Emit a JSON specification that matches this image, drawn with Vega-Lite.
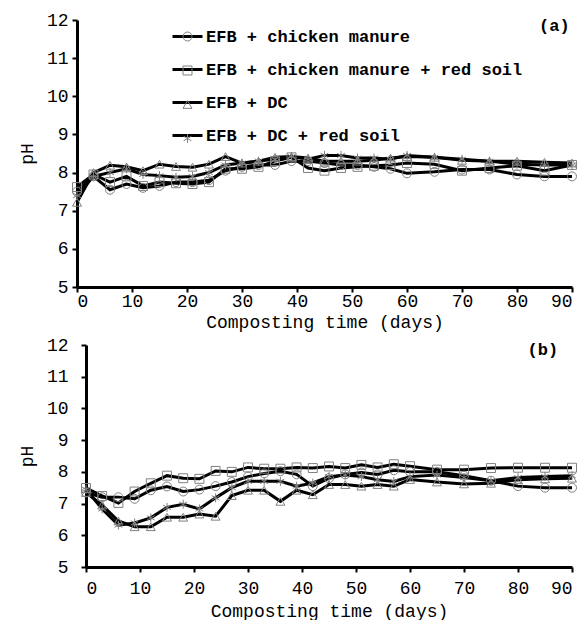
{
  "$schema": "https://vega.github.io/schema/vega-lite/v6.json",
  "padding": {"left": 18, "top": 11, "right": 0, "bottom": 0},
  "spacing": 5,
  "config": {
    "view": {"stroke": null},
    "font": "Liberation Mono",
    "axis": {
      "grid": false,
      "domainColor": "black",
      "domainWidth": 3,
      "tickColor": "black",
      "tickWidth": 2,
      "tickSize": 5,
      "labelFont": "Liberation Mono",
      "labelFontSize": 18,
      "labelColor": "black",
      "labelPadding": 4,
      "labelOverlap": false,
      "titleFont": "Liberation Mono",
      "titleFontSize": 18,
      "titleFontWeight": "normal",
      "titleColor": "black"
    }
  },
  "datasets": {
    "a": [
      {"series": "EFB + chicken manure", "day": 0, "pH": 7.5},
      {"series": "EFB + chicken manure", "day": 3, "pH": 7.9},
      {"series": "EFB + chicken manure", "day": 6, "pH": 7.55},
      {"series": "EFB + chicken manure", "day": 9, "pH": 7.7},
      {"series": "EFB + chicken manure", "day": 12, "pH": 7.6},
      {"series": "EFB + chicken manure", "day": 15, "pH": 7.65},
      {"series": "EFB + chicken manure", "day": 18, "pH": 7.75},
      {"series": "EFB + chicken manure", "day": 21, "pH": 7.75},
      {"series": "EFB + chicken manure", "day": 24, "pH": 7.8},
      {"series": "EFB + chicken manure", "day": 27, "pH": 8.05},
      {"series": "EFB + chicken manure", "day": 30, "pH": 8.15},
      {"series": "EFB + chicken manure", "day": 33, "pH": 8.2},
      {"series": "EFB + chicken manure", "day": 36, "pH": 8.2},
      {"series": "EFB + chicken manure", "day": 39, "pH": 8.3},
      {"series": "EFB + chicken manure", "day": 42, "pH": 8.3},
      {"series": "EFB + chicken manure", "day": 45, "pH": 8.25},
      {"series": "EFB + chicken manure", "day": 48, "pH": 8.2},
      {"series": "EFB + chicken manure", "day": 51, "pH": 8.2},
      {"series": "EFB + chicken manure", "day": 54, "pH": 8.15},
      {"series": "EFB + chicken manure", "day": 57, "pH": 8.1},
      {"series": "EFB + chicken manure", "day": 60, "pH": 7.98},
      {"series": "EFB + chicken manure", "day": 65, "pH": 8.02},
      {"series": "EFB + chicken manure", "day": 70, "pH": 8.08},
      {"series": "EFB + chicken manure", "day": 75, "pH": 8.08},
      {"series": "EFB + chicken manure", "day": 80, "pH": 7.95},
      {"series": "EFB + chicken manure", "day": 85, "pH": 7.9},
      {"series": "EFB + chicken manure", "day": 90, "pH": 7.9},
      {"series": "EFB + chicken manure + red soil", "day": 0, "pH": 7.62},
      {"series": "EFB + chicken manure + red soil", "day": 3, "pH": 7.95},
      {"series": "EFB + chicken manure + red soil", "day": 6, "pH": 7.75},
      {"series": "EFB + chicken manure + red soil", "day": 9, "pH": 7.9},
      {"series": "EFB + chicken manure + red soil", "day": 12, "pH": 7.65},
      {"series": "EFB + chicken manure + red soil", "day": 15, "pH": 7.75},
      {"series": "EFB + chicken manure + red soil", "day": 18, "pH": 7.72},
      {"series": "EFB + chicken manure + red soil", "day": 21, "pH": 7.7},
      {"series": "EFB + chicken manure + red soil", "day": 24, "pH": 7.75},
      {"series": "EFB + chicken manure + red soil", "day": 27, "pH": 8.1},
      {"series": "EFB + chicken manure + red soil", "day": 30, "pH": 8.1},
      {"series": "EFB + chicken manure + red soil", "day": 33, "pH": 8.15},
      {"series": "EFB + chicken manure + red soil", "day": 36, "pH": 8.3},
      {"series": "EFB + chicken manure + red soil", "day": 39, "pH": 8.4},
      {"series": "EFB + chicken manure + red soil", "day": 42, "pH": 8.12},
      {"series": "EFB + chicken manure + red soil", "day": 45, "pH": 8.05},
      {"series": "EFB + chicken manure + red soil", "day": 48, "pH": 8.12},
      {"series": "EFB + chicken manure + red soil", "day": 51, "pH": 8.15},
      {"series": "EFB + chicken manure + red soil", "day": 54, "pH": 8.18},
      {"series": "EFB + chicken manure + red soil", "day": 57, "pH": 8.2},
      {"series": "EFB + chicken manure + red soil", "day": 60, "pH": 8.25},
      {"series": "EFB + chicken manure + red soil", "day": 65, "pH": 8.22},
      {"series": "EFB + chicken manure + red soil", "day": 70, "pH": 8.05},
      {"series": "EFB + chicken manure + red soil", "day": 75, "pH": 8.12},
      {"series": "EFB + chicken manure + red soil", "day": 80, "pH": 8.18},
      {"series": "EFB + chicken manure + red soil", "day": 85, "pH": 8.05},
      {"series": "EFB + chicken manure + red soil", "day": 90, "pH": 8.2},
      {"series": "EFB + DC", "day": 0, "pH": 7.22},
      {"series": "EFB + DC", "day": 3, "pH": 8.0},
      {"series": "EFB + DC", "day": 6, "pH": 8.19},
      {"series": "EFB + DC", "day": 9, "pH": 8.15},
      {"series": "EFB + DC", "day": 12, "pH": 8.05},
      {"series": "EFB + DC", "day": 15, "pH": 8.22},
      {"series": "EFB + DC", "day": 18, "pH": 8.16},
      {"series": "EFB + DC", "day": 21, "pH": 8.14},
      {"series": "EFB + DC", "day": 24, "pH": 8.22},
      {"series": "EFB + DC", "day": 27, "pH": 8.42},
      {"series": "EFB + DC", "day": 30, "pH": 8.25},
      {"series": "EFB + DC", "day": 33, "pH": 8.3},
      {"series": "EFB + DC", "day": 36, "pH": 8.4},
      {"series": "EFB + DC", "day": 39, "pH": 8.42},
      {"series": "EFB + DC", "day": 42, "pH": 8.38},
      {"series": "EFB + DC", "day": 45, "pH": 8.3},
      {"series": "EFB + DC", "day": 48, "pH": 8.3},
      {"series": "EFB + DC", "day": 51, "pH": 8.3},
      {"series": "EFB + DC", "day": 54, "pH": 8.32},
      {"series": "EFB + DC", "day": 57, "pH": 8.38},
      {"series": "EFB + DC", "day": 60, "pH": 8.42},
      {"series": "EFB + DC", "day": 65, "pH": 8.4},
      {"series": "EFB + DC", "day": 70, "pH": 8.32},
      {"series": "EFB + DC", "day": 75, "pH": 8.3},
      {"series": "EFB + DC", "day": 80, "pH": 8.3},
      {"series": "EFB + DC", "day": 85, "pH": 8.27},
      {"series": "EFB + DC", "day": 90, "pH": 8.25},
      {"series": "EFB + DC + red soil", "day": 0, "pH": 7.4},
      {"series": "EFB + DC + red soil", "day": 3, "pH": 7.9},
      {"series": "EFB + DC + red soil", "day": 6, "pH": 8.0},
      {"series": "EFB + DC + red soil", "day": 9, "pH": 8.1},
      {"series": "EFB + DC + red soil", "day": 12, "pH": 7.95},
      {"series": "EFB + DC + red soil", "day": 15, "pH": 7.92},
      {"series": "EFB + DC + red soil", "day": 18, "pH": 7.88},
      {"series": "EFB + DC + red soil", "day": 21, "pH": 7.9},
      {"series": "EFB + DC + red soil", "day": 24, "pH": 8.0},
      {"series": "EFB + DC + red soil", "day": 27, "pH": 8.2},
      {"series": "EFB + DC + red soil", "day": 30, "pH": 8.25},
      {"series": "EFB + DC + red soil", "day": 33, "pH": 8.3},
      {"series": "EFB + DC + red soil", "day": 36, "pH": 8.35},
      {"series": "EFB + DC + red soil", "day": 39, "pH": 8.42},
      {"series": "EFB + DC + red soil", "day": 42, "pH": 8.35},
      {"series": "EFB + DC + red soil", "day": 45, "pH": 8.45},
      {"series": "EFB + DC + red soil", "day": 48, "pH": 8.45},
      {"series": "EFB + DC + red soil", "day": 51, "pH": 8.38},
      {"series": "EFB + DC + red soil", "day": 54, "pH": 8.38},
      {"series": "EFB + DC + red soil", "day": 57, "pH": 8.35},
      {"series": "EFB + DC + red soil", "day": 60, "pH": 8.45},
      {"series": "EFB + DC + red soil", "day": 65, "pH": 8.4},
      {"series": "EFB + DC + red soil", "day": 70, "pH": 8.35},
      {"series": "EFB + DC + red soil", "day": 75, "pH": 8.3},
      {"series": "EFB + DC + red soil", "day": 80, "pH": 8.22},
      {"series": "EFB + DC + red soil", "day": 85, "pH": 8.2},
      {"series": "EFB + DC + red soil", "day": 90, "pH": 8.2}
    ],
    "b": [
      {"series": "EFB + chicken manure", "day": 0, "pH": 7.35},
      {"series": "EFB + chicken manure", "day": 3, "pH": 7.2},
      {"series": "EFB + chicken manure", "day": 6, "pH": 7.2},
      {"series": "EFB + chicken manure", "day": 9, "pH": 7.15},
      {"series": "EFB + chicken manure", "day": 12, "pH": 7.42},
      {"series": "EFB + chicken manure", "day": 15, "pH": 7.54},
      {"series": "EFB + chicken manure", "day": 18, "pH": 7.38},
      {"series": "EFB + chicken manure", "day": 21, "pH": 7.44},
      {"series": "EFB + chicken manure", "day": 24, "pH": 7.55},
      {"series": "EFB + chicken manure", "day": 27, "pH": 7.68},
      {"series": "EFB + chicken manure", "day": 30, "pH": 7.85},
      {"series": "EFB + chicken manure", "day": 33, "pH": 7.95},
      {"series": "EFB + chicken manure", "day": 36, "pH": 8.02},
      {"series": "EFB + chicken manure", "day": 39, "pH": 7.92},
      {"series": "EFB + chicken manure", "day": 42, "pH": 7.55},
      {"series": "EFB + chicken manure", "day": 45, "pH": 7.8},
      {"series": "EFB + chicken manure", "day": 48, "pH": 7.92},
      {"series": "EFB + chicken manure", "day": 51, "pH": 7.98},
      {"series": "EFB + chicken manure", "day": 54, "pH": 7.92},
      {"series": "EFB + chicken manure", "day": 57, "pH": 8.05},
      {"series": "EFB + chicken manure", "day": 60, "pH": 8.0},
      {"series": "EFB + chicken manure", "day": 65, "pH": 8.0},
      {"series": "EFB + chicken manure", "day": 70, "pH": 7.88},
      {"series": "EFB + chicken manure", "day": 75, "pH": 7.72},
      {"series": "EFB + chicken manure", "day": 80, "pH": 7.55},
      {"series": "EFB + chicken manure", "day": 85, "pH": 7.5},
      {"series": "EFB + chicken manure", "day": 90, "pH": 7.5},
      {"series": "EFB + chicken manure + red soil", "day": 0, "pH": 7.49},
      {"series": "EFB + chicken manure + red soil", "day": 3, "pH": 7.24},
      {"series": "EFB + chicken manure + red soil", "day": 6, "pH": 7.02},
      {"series": "EFB + chicken manure + red soil", "day": 9, "pH": 7.38},
      {"series": "EFB + chicken manure + red soil", "day": 12, "pH": 7.64},
      {"series": "EFB + chicken manure + red soil", "day": 15, "pH": 7.88},
      {"series": "EFB + chicken manure + red soil", "day": 18, "pH": 7.8},
      {"series": "EFB + chicken manure + red soil", "day": 21, "pH": 7.78},
      {"series": "EFB + chicken manure + red soil", "day": 24, "pH": 8.03},
      {"series": "EFB + chicken manure + red soil", "day": 27, "pH": 8.0},
      {"series": "EFB + chicken manure + red soil", "day": 30, "pH": 8.14},
      {"series": "EFB + chicken manure + red soil", "day": 33, "pH": 8.1},
      {"series": "EFB + chicken manure + red soil", "day": 36, "pH": 8.1},
      {"series": "EFB + chicken manure + red soil", "day": 39, "pH": 8.14},
      {"series": "EFB + chicken manure + red soil", "day": 42, "pH": 8.12},
      {"series": "EFB + chicken manure + red soil", "day": 45, "pH": 8.17},
      {"series": "EFB + chicken manure + red soil", "day": 48, "pH": 8.12},
      {"series": "EFB + chicken manure + red soil", "day": 51, "pH": 8.22},
      {"series": "EFB + chicken manure + red soil", "day": 54, "pH": 8.14},
      {"series": "EFB + chicken manure + red soil", "day": 57, "pH": 8.24},
      {"series": "EFB + chicken manure + red soil", "day": 60, "pH": 8.18},
      {"series": "EFB + chicken manure + red soil", "day": 65, "pH": 8.07},
      {"series": "EFB + chicken manure + red soil", "day": 70, "pH": 8.07},
      {"series": "EFB + chicken manure + red soil", "day": 75, "pH": 8.12},
      {"series": "EFB + chicken manure + red soil", "day": 80, "pH": 8.13},
      {"series": "EFB + chicken manure + red soil", "day": 85, "pH": 8.13},
      {"series": "EFB + chicken manure + red soil", "day": 90, "pH": 8.13},
      {"series": "EFB + DC", "day": 0, "pH": 7.35},
      {"series": "EFB + DC", "day": 3, "pH": 6.95},
      {"series": "EFB + DC", "day": 6, "pH": 6.45},
      {"series": "EFB + DC", "day": 9, "pH": 6.27},
      {"series": "EFB + DC", "day": 12, "pH": 6.27},
      {"series": "EFB + DC", "day": 15, "pH": 6.57},
      {"series": "EFB + DC", "day": 18, "pH": 6.57},
      {"series": "EFB + DC", "day": 21, "pH": 6.67},
      {"series": "EFB + DC", "day": 24, "pH": 6.6},
      {"series": "EFB + DC", "day": 27, "pH": 7.25},
      {"series": "EFB + DC", "day": 30, "pH": 7.42},
      {"series": "EFB + DC", "day": 33, "pH": 7.42},
      {"series": "EFB + DC", "day": 36, "pH": 7.07},
      {"series": "EFB + DC", "day": 39, "pH": 7.42},
      {"series": "EFB + DC", "day": 42, "pH": 7.28},
      {"series": "EFB + DC", "day": 45, "pH": 7.6},
      {"series": "EFB + DC", "day": 48, "pH": 7.6},
      {"series": "EFB + DC", "day": 51, "pH": 7.55},
      {"series": "EFB + DC", "day": 54, "pH": 7.6},
      {"series": "EFB + DC", "day": 57, "pH": 7.55},
      {"series": "EFB + DC", "day": 60, "pH": 7.76},
      {"series": "EFB + DC", "day": 65, "pH": 7.68},
      {"series": "EFB + DC", "day": 70, "pH": 7.62},
      {"series": "EFB + DC", "day": 75, "pH": 7.64},
      {"series": "EFB + DC", "day": 80, "pH": 7.75},
      {"series": "EFB + DC", "day": 85, "pH": 7.78},
      {"series": "EFB + DC", "day": 90, "pH": 7.8},
      {"series": "EFB + DC + red soil", "day": 0, "pH": 7.45},
      {"series": "EFB + DC + red soil", "day": 3, "pH": 6.83},
      {"series": "EFB + DC + red soil", "day": 6, "pH": 6.32},
      {"series": "EFB + DC + red soil", "day": 9, "pH": 6.39},
      {"series": "EFB + DC + red soil", "day": 12, "pH": 6.55},
      {"series": "EFB + DC + red soil", "day": 15, "pH": 6.88},
      {"series": "EFB + DC + red soil", "day": 18, "pH": 6.98},
      {"series": "EFB + DC + red soil", "day": 21, "pH": 6.83},
      {"series": "EFB + DC + red soil", "day": 24, "pH": 7.18},
      {"series": "EFB + DC + red soil", "day": 27, "pH": 7.5},
      {"series": "EFB + DC + red soil", "day": 30, "pH": 7.7},
      {"series": "EFB + DC + red soil", "day": 33, "pH": 7.7},
      {"series": "EFB + DC + red soil", "day": 36, "pH": 7.7},
      {"series": "EFB + DC + red soil", "day": 39, "pH": 7.55},
      {"series": "EFB + DC + red soil", "day": 42, "pH": 7.65},
      {"series": "EFB + DC + red soil", "day": 45, "pH": 7.85},
      {"series": "EFB + DC + red soil", "day": 48, "pH": 7.9},
      {"series": "EFB + DC + red soil", "day": 51, "pH": 7.85},
      {"series": "EFB + DC + red soil", "day": 54, "pH": 7.75},
      {"series": "EFB + DC + red soil", "day": 57, "pH": 7.7},
      {"series": "EFB + DC + red soil", "day": 60, "pH": 7.85},
      {"series": "EFB + DC + red soil", "day": 65, "pH": 7.9},
      {"series": "EFB + DC + red soil", "day": 70, "pH": 7.82},
      {"series": "EFB + DC + red soil", "day": 75, "pH": 7.72},
      {"series": "EFB + DC + red soil", "day": 80, "pH": 7.82},
      {"series": "EFB + DC + red soil", "day": 85, "pH": 7.85},
      {"series": "EFB + DC + red soil", "day": 90, "pH": 7.88}
    ]
  },
  "vconcat": [
    {
      "width": 495,
      "height": 267,
      "layer": [
        {
          "data": {"name": "a"},
          "mark": {"type": "line", "strokeWidth": 3},
          "encoding": {
            "x": {"field": "day", "type": "quantitative", "scale": {"domain": [0, 90]}, "axis": {"values": [0, 10, 20, 30, 40, 50, 60, 70, 80, 90], "title": "Composting time (days)", "titlePadding": 3, "labelPadding": 0}},
            "y": {"field": "pH", "type": "quantitative", "scale": {"domain": [5, 12]}, "axis": {"values": [5, 6, 7, 8, 9, 10, 11, 12], "title": "pH", "titlePadding": 10}},
            "color": {
              "field": "series", "type": "nominal", "sort": null,
              "scale": {"range": ["black", "black", "black", "black"]},
              "legend": {
                "orient": "none", "legendX": 94, "legendY": 0, "title": null, "padding": 0,
                "symbolType": "stroke", "symbolStrokeWidth": 3, "symbolSize": 900, "symbolStrokeColor": "black",
                "symbolOffset": 0, "labelOffset": 2, "rowPadding": 8,
                "labelFont": "Liberation Mono", "labelFontSize": 17, "labelFontWeight": "bold", "labelColor": "black", "labelLimit": 400,
                "zindex": 0
              }
            }
          }
        },
        {
          "data": {"name": "a"},
          "mark": {"type": "point", "filled": false, "color": "#808080", "strokeWidth": 1, "size": 80, "opacity": 1},
          "encoding": {
            "x": {"field": "day", "type": "quantitative", "scale": {"domain": [0, 90]}, "axis": {"values": [0, 10, 20, 30, 40, 50, 60, 70, 80, 90], "title": "Composting time (days)", "titlePadding": 3, "labelPadding": 0}},
            "y": {"field": "pH", "type": "quantitative", "scale": {"domain": [5, 12]}, "axis": {"values": [5, 6, 7, 8, 9, 10, 11, 12], "title": "pH", "titlePadding": 10}},
            "shape": {
              "field": "series", "type": "nominal",
              "scale": {
                "domain": ["EFB + chicken manure", "EFB + chicken manure + red soil", "EFB + DC", "EFB + DC + red soil"],
                "range": ["circle", "square", "triangle-up", "M0,-1L0,1M-0.866,-0.5L0.866,0.5M-0.866,0.5L0.866,-0.5"]
              },
              "legend": {
                "orient": "none", "legendX": 102, "legendY": 8, "title": null, "padding": 0,
                "symbolSize": 80, "symbolStrokeWidth": 1, "symbolStrokeColor": "#808080", "symbolFillColor": "white",
                "symbolOffset": 0, "labelOffset": -14, "rowPadding": 16,
                "labelExpr": "' '",
                "labelFont": "Liberation Mono", "labelFontSize": 17, "labelFontWeight": "bold", "labelOpacity": 0, "labelLimit": 400,
                "zindex": 1
              }
            }
          }
        },
        {
          "data": {"values": [{"label": "(a)"}]},
          "mark": {"type": "text", "font": "Liberation Mono", "fontSize": 17, "fontWeight": "bold", "color": "black"},
          "encoding": {
            "x": {"datum": 86.8, "type": "quantitative", "scale": {"domain": [0, 90]}, "axis": {"values": [0, 10, 20, 30, 40, 50, 60, 70, 80, 90], "title": "Composting time (days)", "titlePadding": 3, "labelPadding": 0}},
            "y": {"datum": 11.85, "type": "quantitative", "scale": {"domain": [5, 12]}, "axis": {"values": [5, 6, 7, 8, 9, 10, 11, 12], "title": "pH", "titlePadding": 10}},
            "text": {"field": "label", "type": "nominal"}
          }
        }
      ]
    },
    {
      "width": 495,
      "height": 222,
      "layer": [
        {
          "data": {"name": "b"},
          "mark": {"type": "line", "strokeWidth": 3, "color": "black"},
          "encoding": {
            "x": {"field": "day", "type": "quantitative", "scale": {"domain": [0, 90], "range": [9, 495]}, "axis": {"values": [0, 10, 20, 30, 40, 50, 60, 70, 80, 90], "title": "Composting time (days)", "titlePadding": 5, "labelPadding": 7}},
            "y": {"field": "pH", "type": "quantitative", "scale": {"domain": [5, 12]}, "axis": {"values": [5, 6, 7, 8, 9, 10, 11, 12], "title": "pH", "titlePadding": 10, "labelPadding": 13, "offset": -9}},
            "detail": {"field": "series", "type": "nominal"}
          }
        },
        {
          "data": {"name": "b"},
          "mark": {"type": "point", "filled": false, "color": "#808080", "strokeWidth": 1, "size": 80, "opacity": 1},
          "encoding": {
            "x": {"field": "day", "type": "quantitative", "scale": {"domain": [0, 90], "range": [9, 495]}, "axis": {"values": [0, 10, 20, 30, 40, 50, 60, 70, 80, 90], "title": "Composting time (days)", "titlePadding": 5, "labelPadding": 7}},
            "y": {"field": "pH", "type": "quantitative", "scale": {"domain": [5, 12]}, "axis": {"values": [5, 6, 7, 8, 9, 10, 11, 12], "title": "pH", "titlePadding": 10, "labelPadding": 13, "offset": -9}},
            "shape": {
              "field": "series", "type": "nominal",
              "scale": {
                "domain": ["EFB + chicken manure", "EFB + chicken manure + red soil", "EFB + DC", "EFB + DC + red soil"],
                "range": ["circle", "square", "triangle-up", "M0,-1L0,1M-0.866,-0.5L0.866,0.5M-0.866,0.5L0.866,-0.5"]
              },
              "legend": null
            }
          }
        },
        {
          "data": {"values": [{"label": "(b)"}]},
          "mark": {"type": "text", "font": "Liberation Mono", "fontSize": 17, "fontWeight": "bold", "color": "black"},
          "encoding": {
            "x": {"datum": 84.6, "type": "quantitative", "scale": {"domain": [0, 90], "range": [9, 495]}, "axis": {"values": [0, 10, 20, 30, 40, 50, 60, 70, 80, 90], "title": "Composting time (days)", "titlePadding": 5, "labelPadding": 7}},
            "y": {"datum": 11.85, "type": "quantitative", "scale": {"domain": [5, 12]}, "axis": {"values": [5, 6, 7, 8, 9, 10, 11, 12], "title": "pH", "titlePadding": 10, "labelPadding": 13, "offset": -9}},
            "text": {"field": "label", "type": "nominal"}
          }
        }
      ]
    }
  ]
}
